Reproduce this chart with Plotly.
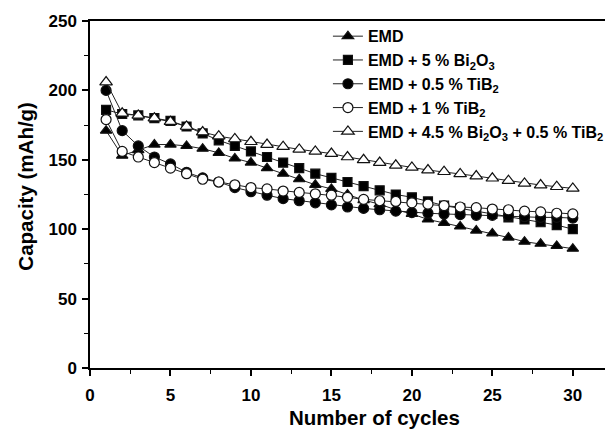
import plotly.graph_objects as go

cycles = list(range(1, 31))

emd = [171, 153, 157, 161, 161, 160, 158, 155, 151, 148, 144, 140, 136, 132, 129,
       125, 121, 118, 114, 111, 107, 104.5, 102, 99, 97, 94, 91, 89.5, 88, 86]
emd_bi = [186, 183, 182, 180, 178, 174, 169, 164, 160, 156, 152, 148, 144, 140, 137,
          134, 131, 128, 125, 123, 120, 117, 115, 113, 111, 108.5, 107, 105, 103, 100]
emd_tib05 = [200, 171, 160, 152, 147, 141, 137, 134, 130, 127, 124.5, 122, 120.5, 119, 117.5,
             116, 115, 114, 113, 112, 111.5, 111, 110.5, 110, 110, 109.5, 109, 108.5, 108.5, 108]
emd_tib1 = [179, 156, 152, 148, 144, 140, 136, 134, 132, 130, 129, 127.5, 126.5, 125.5, 124.5,
            123, 121.5, 120.5, 120, 119, 118, 117, 116, 115.5, 114.5, 114, 113, 112.5, 111.5, 111]
emd_bi_tib = [206, 183.5, 182, 180, 177.5, 174, 170, 167, 165, 163, 161, 159.5, 157.5, 156, 154.5,
              152, 150, 148, 146, 144.5, 142.6, 141.4, 139.8, 138.3, 136.7, 135, 133, 131.8, 130.6, 129.4]

names = ["EMD",
         "EMD + 5 % Bi<sub>2</sub>O<sub>3</sub>",
         "EMD + 0.5 % TiB<sub>2</sub>",
         "EMD + 1 % TiB<sub>2</sub>",
         "EMD + 4.5 % Bi<sub>2</sub>O<sub>3</sub> + 0.5 % TiB<sub>2</sub>"]
series = [emd, emd_bi, emd_tib05, emd_tib1, emd_bi_tib]
symbols = ["triangle-up", "square", "circle", "circle", "triangle-up"]
fills = ["black", "black", "black", "white", "white"]
sizes = [10, 9, 10, 10, 11]

x_ticks = [0, 5, 10, 15, 20, 25, 30]
y_ticks = [0, 50, 100, 150, 200, 250]

fig = go.Figure()
for name, ys, sym, fc, sz in zip(names, series, symbols, fills, sizes):
    fig.add_trace(go.Scatter(
        x=cycles, y=ys, name=name, mode="lines+markers",
        line=dict(color="#222222", width=1),
        marker=dict(symbol=sym, size=sz, color=fc,
                    line=dict(color="#111111", width=1.2)),
    ))

font_family = "Liberation Sans, Arial, Helvetica, sans-serif"

fig.update_layout(
    width=607, height=431,
    margin=dict(l=90, r=2, t=21, b=63, autoexpand=False),
    paper_bgcolor="white", plot_bgcolor="white",
    font=dict(family=font_family, size=15, color="black", weight="bold"),
    showlegend=True,
    legend=dict(x=0.462, y=1.005, xanchor="left", yanchor="top",
                bgcolor="rgba(0,0,0,0)", borderwidth=0,
                font=dict(size=16, family=font_family, weight="bold"),
                tracegroupgap=0, itemwidth=30),
    annotations=[
        dict(text="Number of cycles", xref="paper", yref="paper",
             x=0.5515, y=-0.144, xanchor="center", yanchor="middle",
             showarrow=False, font=dict(size=20.5, weight="bold")),
        dict(text="Capacity (mAh/g)", xref="paper", yref="paper",
             x=-0.126, y=0.523, xanchor="center", yanchor="middle",
             textangle=-90, showarrow=False, font=dict(size=20.5, weight="bold")),
    ],
)
fig.update_xaxes(
    range=[0, 32], tickvals=x_ticks,
    showline=True, linecolor="black", linewidth=1.5, mirror=True,
    ticks="outside", ticklen=6, tickwidth=1.5, tickcolor="black",
    minor=dict(tickvals=[2.5, 7.5, 12.5, 17.5, 22.5, 27.5], ticks="outside",
               ticklen=4, tickwidth=1.2, tickcolor="black"),
    showgrid=False, zeroline=False, ticklabelstandoff=5,
    tickfont=dict(size=17, weight="bold"),
)
fig.update_yaxes(
    range=[0, 250], tickvals=y_ticks,
    showline=True, linecolor="black", linewidth=1.5,
    ticks="outside", ticklen=6, tickwidth=1.5, tickcolor="black",
    minor=dict(tickvals=[25, 75, 125, 175, 225], ticks="outside",
               ticklen=4, tickwidth=1.2, tickcolor="black"),
    showgrid=False, zeroline=False, ticklabelstandoff=2,
    tickfont=dict(size=17, weight="bold"),
)

fig.write_html("out.html")
